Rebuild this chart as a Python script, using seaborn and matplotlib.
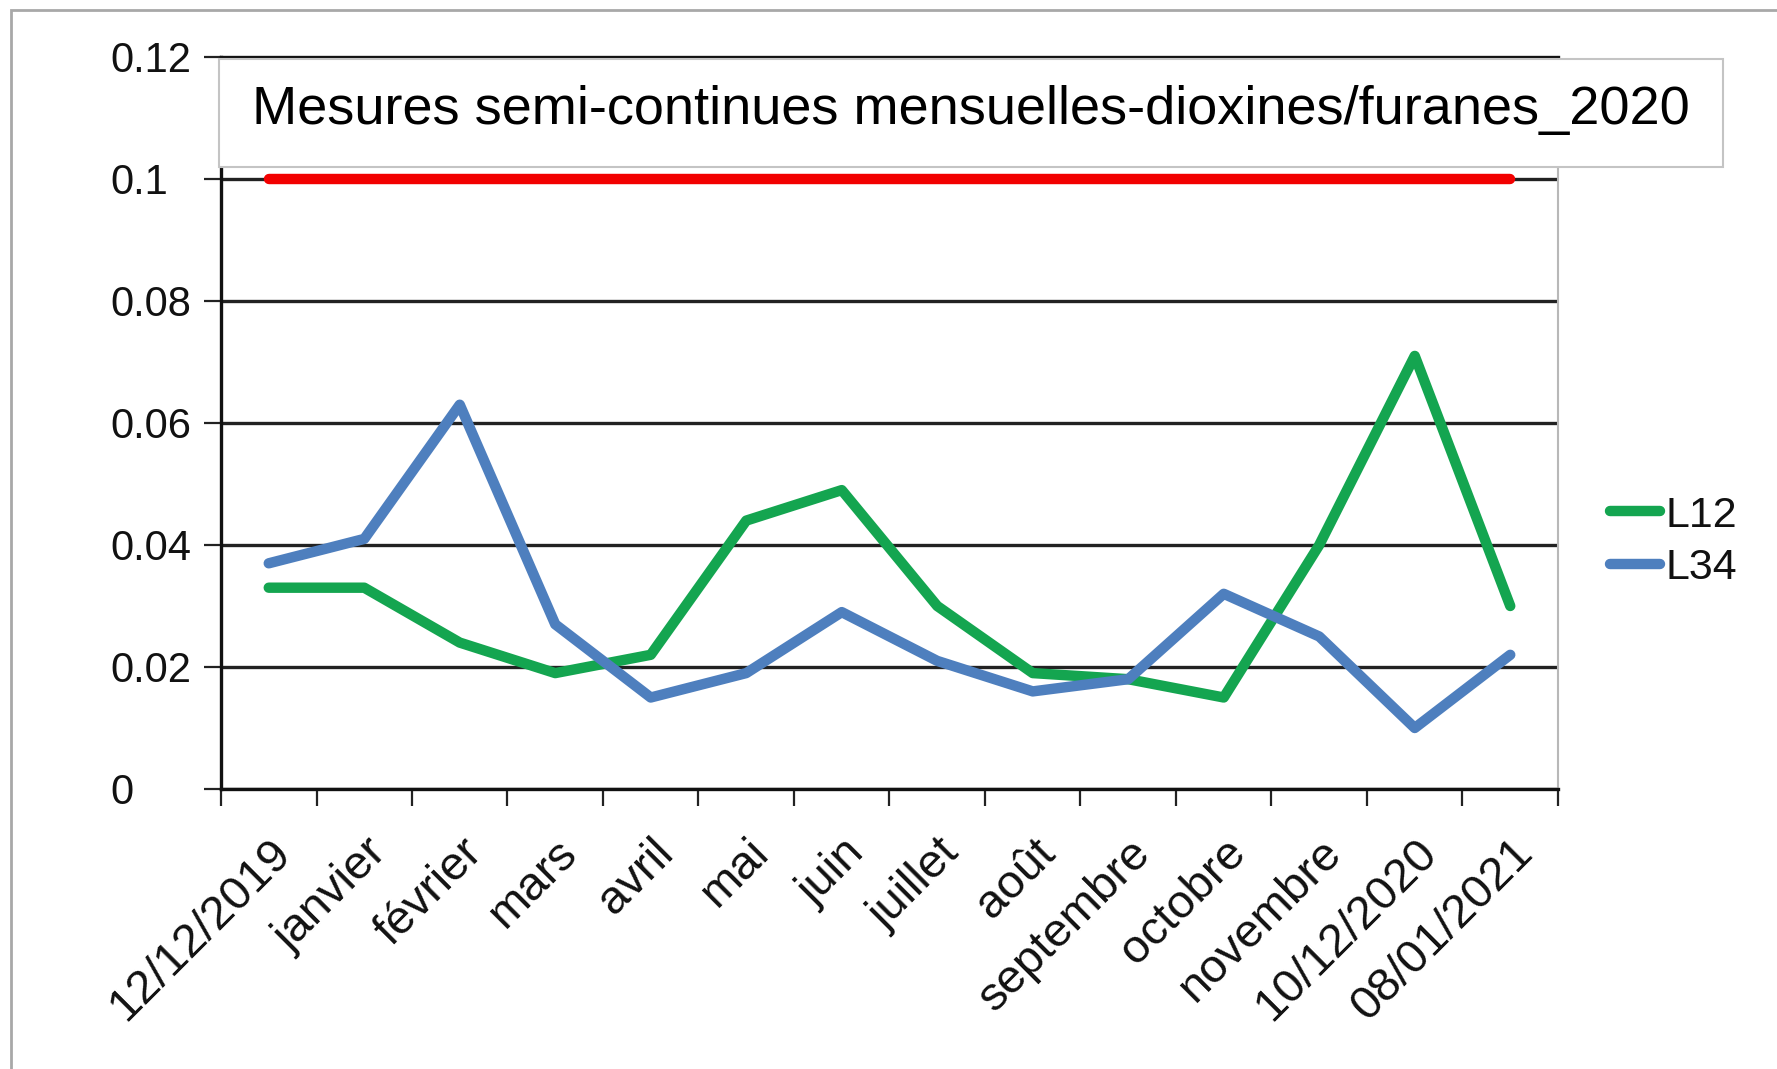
import matplotlib
matplotlib.use("Agg")
import matplotlib.pyplot as plt
import seaborn as sns
import pandas as pd
import numpy as np
from matplotlib.patches import Rectangle
from matplotlib.lines import Line2D

# ---------------- data ----------------
categories = ["12/12/2019", "janvier", "février", "mars", "avril", "mai", "juin",
              "juillet", "août", "septembre", "octobre", "novembre",
              "10/12/2020", "08/01/2021"]
l12 = [0.033, 0.033, 0.024, 0.019, 0.022, 0.044, 0.049, 0.030, 0.019, 0.018,
       0.015, 0.040, 0.071, 0.030]
l34 = [0.037, 0.041, 0.063, 0.027, 0.015, 0.019, 0.029, 0.021, 0.016, 0.018,
       0.032, 0.025, 0.010, 0.022]
limit = [0.1] * len(categories)
series_names = ["L12", "L34"]
y_ticks = [0, 0.02, 0.04, 0.06, 0.08, 0.1, 0.12]
y_tick_labels = ["0", "0.02", "0.04", "0.06", "0.08", "0.1", "0.12"]
title = "Mesures semi-continues mensuelles-dioxines/furanes_2020"

# ---------------- style ----------------
sns.set_style("white")
plt.rcParams["font.family"] = ["Liberation Sans", "DejaVu Sans"]
plt.rcParams["text.color"] = "#111111"
plt.rcParams["xtick.color"] = "#111111"
plt.rcParams["ytick.color"] = "#111111"

W, H = 1777, 1069
fig = plt.figure(figsize=(W / 100, H / 100), dpi=100)
ax_left, ax_right, ax_top, ax_bottom = 221, 1558, 57, 789
ax = fig.add_axes([ax_left / W, 1 - ax_bottom / H,
                   (ax_right - ax_left) / W, (ax_bottom - ax_top) / H])

pos = list(range(len(categories)))
df = pd.DataFrame({
    "pos": pos * 2,
    "value": l12 + l34,
    "series": [series_names[0]] * len(pos) + [series_names[1]] * len(pos),
})
palette = {"L12": "#14A550", "L34": "#4E7FBE"}

# red limit line
sns.lineplot(x=pos, y=limit, color="#F20000", linewidth=7.5, ax=ax, zorder=3)
# series
sns.lineplot(data=df, x="pos", y="value", hue="series", palette=palette,
             hue_order=series_names, linewidth=7.5, legend=False, ax=ax,
             sort=False, zorder=4)

ax.set_xlim(-0.5, len(categories) - 0.5)
ax.set_ylim(0, 0.12)
ax.set_xlabel("")
ax.set_ylabel("")

# y axis
ax.set_yticks(y_ticks)
ax.set_yticklabels(y_tick_labels, fontsize=30, ha="left")
ax.tick_params(axis="y", which="major", left=True, direction="out", length=12,
               width=1.6, color="#222222", pad=68)
ax.yaxis.grid(True, color="#222222", linewidth=2.4)
ax.set_axisbelow(True)

# x axis
ax.set_xticks(pos)
ax.set_xticklabels(categories, fontsize=34, rotation=45, ha="right",
                   rotation_mode="anchor")
ax.tick_params(axis="x", which="major", bottom=True, length=0, pad=30)
ax.set_xticks(np.arange(-0.5, len(categories), 1), minor=True)
ax.tick_params(axis="x", which="minor", bottom=True, direction="out", length=12,
               width=1.6, color="#222222")

for side in ["left", "bottom", "top"]:
    ax.spines[side].set_color("#111111")
    ax.spines[side].set_linewidth(2.4)
ax.spines["right"].set_color("#b8b8b8")
ax.spines["right"].set_linewidth(1.5)

# title box
rect = Rectangle((219 / W, 1 - 167 / H), (1723 - 219) / W, (167 - 59) / H,
                 transform=fig.transFigure, facecolor="white",
                 edgecolor="#c4c4c4", linewidth=1.5, zorder=5)
fig.add_artist(rect)
fig.text(252 / W, 1 - 110 / H, title, fontsize=39, ha="left", va="center",
         color="#000000", zorder=6)

# outer border
border = Rectangle((11 / W, -0.02), 1.0, 1 - 10 / H + 0.02,
                   transform=fig.transFigure, facecolor="none",
                   edgecolor="#a8a8a8", linewidth=2, zorder=7)
fig.add_artist(border)

# legend
handles = [Line2D([0], [0], color=palette[n], linewidth=7.5) for n in series_names]
fig.legend(handles, series_names, loc="center left",
           bbox_to_anchor=(1610 / W, 1 - 542 / H), frameon=False, fontsize=31,
           handlelength=1.15, handletextpad=0.15, labelspacing=0.3,
           borderpad=0, borderaxespad=0)

fig.savefig("out.png", dpi=100)
